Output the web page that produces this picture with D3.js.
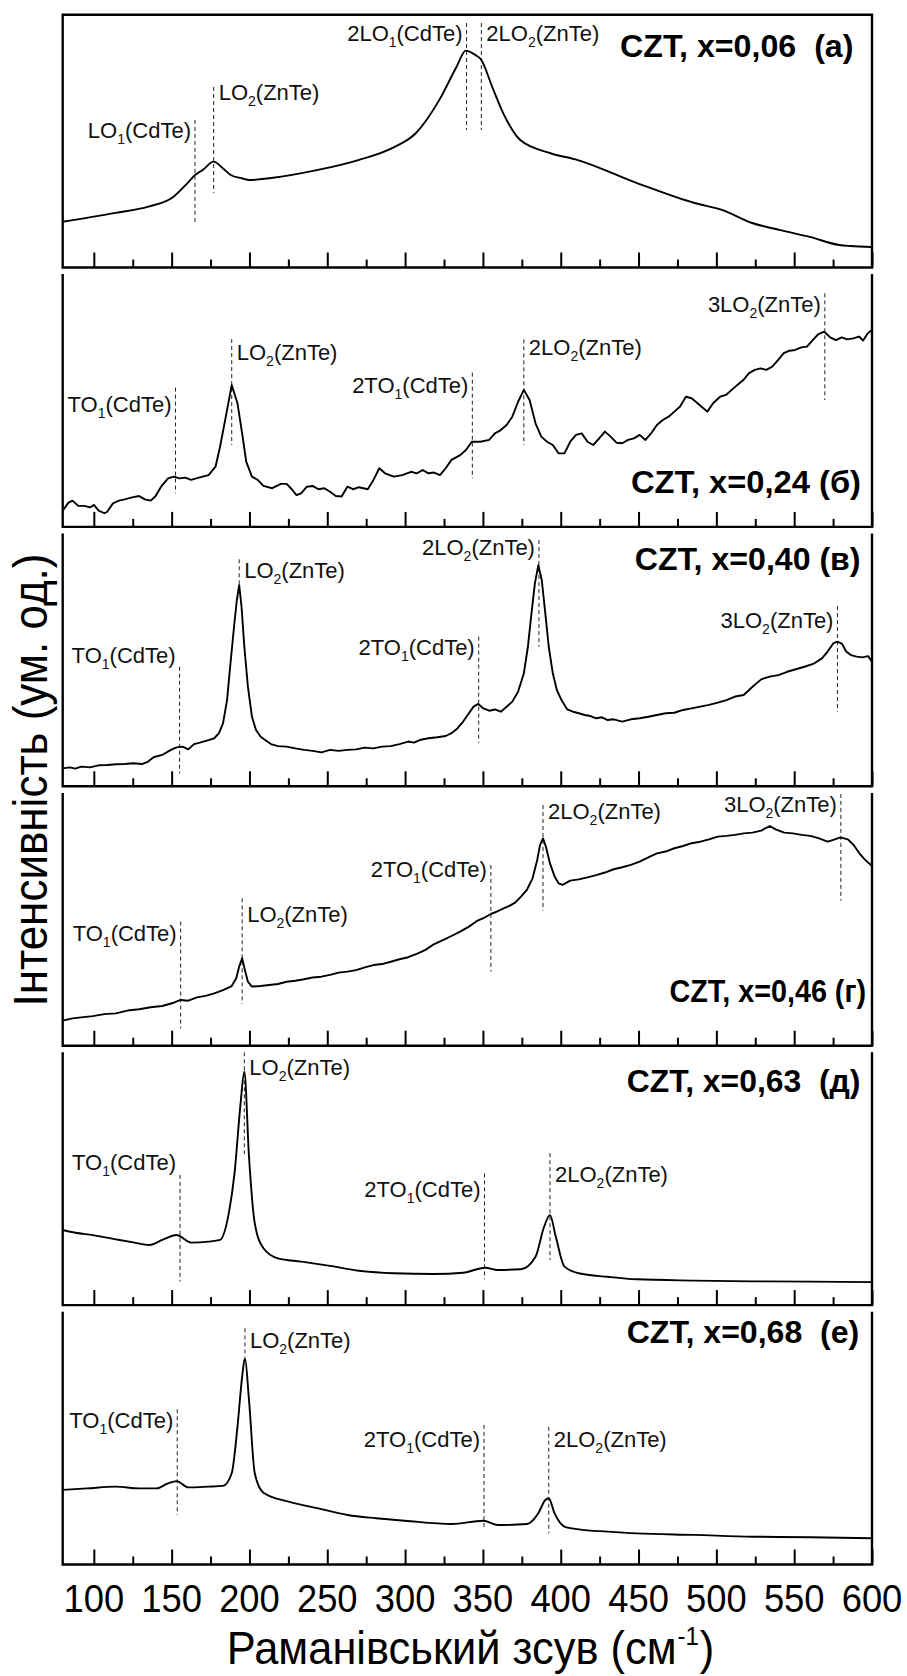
<!DOCTYPE html>
<html>
<head>
<meta charset="utf-8">
<script src="https://cdn.jsdelivr.net/npm/d3@7"></script>
<style>
  html, body { margin: 0; padding: 0; background: #fff; }
  svg { display: block; font-family: "Liberation Sans", Arial, sans-serif; }
  .lbl { white-space: pre; }
</style>
</head>
<body>
<svg id="chart" width="907" height="1676"></svg>
<script>
// ---- Raman shift axis ----
const shiftDomain = [80, 600];
const majorTicks = [100, 150, 200, 250, 300, 350, 400, 450, 500, 550, 600];
const minorTicks = [125, 175, 225, 275, 325, 375, 425, 475, 525, 575];
const tickLabels = ["100", "150", "200", "250", "300", "350", "400", "450", "500", "550", "600"];

// ---- sample captions ----
const sampleLabels = [
  "CZT, x=0,06  (а)",
  "CZT, x=0,24 (б)",
  "CZT, x=0,40 (в)",
  "CZT, x=0,46 (г)",
  "CZT, x=0,63  (д)",
  "CZT, x=0,68  (е)"
];

// ---- spectra: Raman shift (cm^-1) and intensity (arb. units, 0–100 per panel) ----
const shiftA = [80, 114, 135, 151, 160, 165, 170, 177, 183, 188, 195, 200, 214, 244, 270, 292, 307, 322, 333, 339, 345, 349, 356, 363, 374, 393, 411, 449, 486, 504, 523, 541, 560, 579, 586, 600];
const intensityA = [18.1, 21.6, 24.1, 27.9, 33.3, 36.6, 38.6, 41.9, 39.2, 36.6, 35.3, 34.6, 35.4, 38.6, 42.5, 47.3, 53.2, 66.3, 79.3, 85.8, 84.1, 82.1, 71.4, 61.1, 50.4, 45.3, 42.5, 33.4, 25.5, 22.7, 17.6, 14.8, 12.1, 8.9, 8.5, 8.1];

const shiftB = [80, 83.7, 86.3, 90, 93.8, 97.5, 100.1, 103.1, 106.8, 108.6, 112.3, 116.1, 119.8, 124.6, 129.1, 132.8, 136.5, 139.5, 143.2, 147.7, 151.4, 155.1, 158.8, 162.5, 168.1, 173.7, 178.2, 181.1, 184.8, 188.6, 192.3, 195.3, 197.9, 201.6, 205.3, 209, 214.6, 220.2, 223.9, 227.6, 230.2, 233.2, 236.9, 240.6, 244.3, 248.1, 251.8, 255.5, 259.2, 262.9, 266.6, 270.4, 276, 279.7, 283.4, 287.1, 292.7, 298.2, 303.8, 307.5, 311.3, 315, 318.7, 322.4, 326.1, 329.8, 335.4, 339.1, 342.9, 348.4, 354, 357.7, 361.5, 365.2, 368.9, 372.6, 376.3, 380, 383.8, 387.5, 391.2, 394.9, 398.6, 402.4, 406.1, 409.8, 413.5, 417.2, 420.9, 424.7, 428.4, 432.1, 435.8, 439.5, 443.3, 447, 450.7, 454.4, 458.1, 461.8, 465.6, 469.3, 473, 476.7, 480.4, 484.1, 487.9, 491.6, 494.2, 497.9, 502.4, 506.2, 509.8, 513.5, 517.3, 521, 524.7, 528.4, 532.1, 535.9, 539.6, 543.3, 547, 550.7, 554.5, 558.2, 561.9, 565.6, 569.3, 573.1, 576.8, 580.5, 584.2, 587.9, 591.7, 594.3, 597.3, 600];
const intensityB = [6.4, 9.6, 10.4, 8.3, 8.3, 7.7, 8.7, 6.4, 5.4, 6.0, 9.3, 10.4, 10.9, 11.7, 12.2, 10.9, 10.4, 12.0, 15.9, 19.2, 19.9, 19.2, 19.5, 18.6, 19.6, 20.5, 23.8, 31.7, 43.6, 56.1, 48.9, 37.0, 25.8, 19.9, 18.6, 16.2, 15.3, 17.0, 17.0, 14.6, 12.6, 13.3, 15.9, 16.2, 14.9, 15.3, 13.9, 12.2, 12.0, 15.9, 14.9, 15.7, 14.9, 18.6, 23.2, 21.2, 19.9, 20.5, 21.8, 21.2, 22.5, 21.2, 21.5, 20.5, 23.2, 26.5, 28.4, 30.4, 33.7, 33.7, 34.4, 37.0, 38.3, 40.3, 43.6, 49.5, 54.2, 50.2, 41.0, 35.7, 33.7, 32.4, 29.1, 29.1, 33.7, 36.4, 37.0, 33.7, 32.4, 35.0, 37.7, 35.7, 33.3, 33.1, 34.4, 35.0, 36.4, 34.4, 37.0, 40.3, 42.3, 43.6, 45.6, 47.6, 51.5, 50.9, 48.9, 46.9, 45.6, 48.9, 51.5, 52.2, 54.2, 56.1, 58.1, 60.8, 62.1, 62.7, 62.1, 63.4, 66.0, 68.7, 69.7, 70.0, 71.0, 71.3, 73.9, 76.3, 77.2, 75.0, 73.9, 75.0, 74.2, 74.6, 75.3, 73.7, 76.6, 77.9];

const shiftC = [80, 84.5, 88.2, 91.9, 97.5, 103.1, 108.6, 114.2, 119.8, 125.4, 130.9, 134.7, 138.4, 143.9, 149.5, 153.2, 157, 160.7, 164.4, 168.1, 173.7, 177.4, 180.4, 183, 185.6, 187.8, 190.1, 191.9, 193.4, 194.9, 196.7, 199, 201.6, 204.2, 207.2, 210.1, 213.8, 218.3, 223.9, 229.5, 235, 240.6, 246.2, 251.8, 257.3, 262.9, 268.5, 274.1, 279.7, 285.2, 290.8, 296.4, 302, 305.7, 309.4, 315, 320.6, 326.1, 329.8, 333.6, 337.3, 341, 344, 347, 350.3, 354, 357.7, 361.5, 365.2, 368.9, 372.6, 376.3, 378.9, 381.2, 383.4, 385.6, 387.8, 390.1, 392.3, 394.9, 397.5, 400.5, 404.2, 407.9, 411.6, 415.4, 419.1, 422.8, 426.5, 430.2, 434, 439.5, 445.1, 450.7, 456.3, 461.8, 467.4, 473, 478.6, 484.1, 489.7, 495.3, 500.9, 506.5, 512, 517.6, 523.2, 528.8, 534.3, 539.9, 545.5, 551.1, 556.6, 562.2, 567.8, 571.5, 575.2, 577.8, 580.8, 583.4, 586.4, 590.1, 593.8, 597.5, 600];
const intensityC = [7.1, 7.5, 7.0, 7.8, 7.5, 8.3, 8.4, 8.7, 8.8, 9.1, 8.8, 9.7, 11.5, 12.4, 14.4, 15.4, 15.7, 14.6, 16.7, 17.3, 18.3, 19.0, 21.0, 24.9, 34.1, 48.6, 63.2, 73.7, 79.6, 71.1, 55.2, 39.4, 27.5, 22.3, 19.6, 18.3, 16.7, 15.9, 15.7, 15.0, 14.4, 14.0, 13.4, 14.4, 14.0, 14.4, 14.6, 15.3, 15.0, 15.7, 15.9, 16.7, 17.7, 17.3, 18.3, 19.0, 19.4, 19.9, 21.0, 22.9, 25.6, 28.9, 31.5, 32.6, 30.8, 29.9, 30.4, 29.5, 31.5, 33.5, 37.4, 44.7, 55.2, 68.4, 80.3, 87.5, 81.6, 68.4, 55.2, 44.7, 38.1, 34.1, 30.4, 29.5, 28.9, 28.2, 27.8, 26.9, 27.3, 26.2, 26.5, 25.6, 26.5, 26.9, 27.5, 28.2, 28.9, 29.1, 30.2, 30.8, 31.5, 32.2, 33.1, 34.1, 35.5, 36.1, 39.4, 42.3, 43.4, 44.0, 45.3, 46.3, 47.3, 48.4, 50.6, 53.3, 56.6, 57.2, 56.3, 53.3, 51.9, 51.3, 51.0, 51.5, 49.3];

const shiftD = [80, 86.3, 91.9, 99.3, 106.8, 114.2, 121.6, 129.1, 136.5, 143.9, 151.4, 155.8, 160.7, 166.3, 171.8, 177.4, 183, 188.6, 191.5, 193.4, 195.3, 197.1, 199, 201.6, 207.2, 212.7, 218.3, 223.9, 229.5, 235, 240.6, 246.2, 251.8, 257.3, 262.9, 268.5, 274.1, 279.7, 285.2, 290.8, 296.4, 302, 307.5, 313.1, 318.7, 324.3, 329.8, 335.4, 341, 346.6, 351.4, 355.1, 358.9, 363.3, 367, 370.7, 374.5, 378.2, 381.9, 384.9, 386.7, 388.6, 390.5, 393.1, 396.1, 398.6, 401.2, 406.1, 411.6, 417.2, 422.8, 428.4, 434, 439.5, 445.1, 450.7, 456.3, 461.8, 467.4, 473, 478.6, 484.1, 489.7, 495.3, 500.9, 506.5, 512, 517.6, 523.2, 528.8, 534.3, 538.1, 543.6, 549.2, 554.8, 560.4, 566, 571.5, 575.2, 579.7, 584.5, 588.2, 591.9, 595.6, 600];
const intensityD = [9.9, 10.8, 11.2, 11.7, 12.5, 12.8, 13.9, 14.4, 15.2, 15.7, 17.0, 18.1, 17.8, 19.1, 19.7, 20.7, 22.0, 23.6, 26.7, 31.3, 34.6, 29.9, 25.3, 23.4, 23.6, 24.0, 24.4, 25.3, 25.7, 26.3, 27.0, 27.3, 28.0, 28.9, 29.3, 29.9, 31.0, 31.9, 32.3, 33.2, 34.2, 35.0, 36.3, 37.9, 40.2, 41.8, 43.4, 45.1, 47.1, 49.5, 50.8, 52.1, 53.0, 54.3, 55.3, 56.6, 59.0, 61.6, 66.2, 73.5, 79.4, 82.0, 78.7, 72.1, 66.9, 64.2, 63.6, 65.3, 65.8, 66.6, 67.5, 68.5, 69.8, 70.6, 71.5, 72.8, 74.5, 76.1, 76.8, 78.1, 79.0, 80.1, 80.7, 81.6, 82.7, 83.0, 83.4, 84.0, 84.3, 85.1, 86.9, 85.6, 84.3, 84.0, 83.4, 83.0, 82.0, 80.7, 81.4, 82.4, 81.6, 79.4, 76.1, 73.5, 71.1];

const shiftE = [80, 88.2, 99.3, 114.2, 125.4, 135.8, 144, 153.2, 162.5, 173.7, 181.1, 186.7, 190.4, 194.1, 196.7, 199.7, 203.4, 209, 218.3, 233.2, 251.8, 270.4, 292.7, 318.7, 337.3, 351.4, 359.6, 374.5, 383.8, 389.3, 393.1, 396.8, 402.4, 411.6, 430.2, 448.8, 486, 523.2, 560.4, 600];
const intensityE = [29.7, 28.6, 27.7, 26.0, 24.8, 23.8, 25.8, 27.7, 24.7, 25.1, 25.8, 36.3, 52.1, 78.5, 92.3, 58.7, 32.4, 22.5, 18.5, 17.2, 15.5, 13.6, 12.6, 12.3, 12.8, 14.8, 13.9, 14.2, 19.1, 31.0, 35.6, 27.1, 15.2, 12.6, 11.2, 10.2, 9.7, 9.4, 9.3, 9.1];

const shiftF = [80, 95.6, 114.2, 129, 140.2, 147.7, 153.2, 160.7, 173.7, 183, 188.6, 192.3, 195.3, 197.1, 199.7, 203.4, 209, 225.7, 244.3, 263, 281.5, 300, 329.8, 350.3, 359.6, 378.2, 385.6, 390.1, 392.3, 396, 402.4, 411.6, 430.2, 448.8, 486, 523.2, 560.4, 600];
const intensityF = [29.5, 30.1, 30.8, 30.1, 30.1, 32.1, 33.0, 30.5, 30.8, 31.1, 36.1, 54.5, 74.3, 81.6, 65.1, 36.1, 28.4, 24.8, 22.2, 19.6, 18.3, 17.3, 16.0, 17.3, 15.6, 16.0, 20.3, 25.5, 26.2, 20.3, 15.0, 13.9, 13.0, 12.3, 11.7, 11.0, 10.8, 10.4];

// ---- phonon mode assignments: [mode, subscript, compound, shift cm^-1] ----
const peaksA = [["LO", "1", "(CdTe)", 165], ["LO", "2", "(ZnTe)", 177], ["2LO", "1", "(CdTe)", 339.5], ["2LO", "2", "(ZnTe)", 349]];
const peaksB = [["TO", "1", "(CdTe)", 152.5], ["LO", "2", "(ZnTe)", 188.6], ["2TO", "1", "(CdTe)", 343.2], ["2LO", "2", "(ZnTe)", 376.3], ["3LO", "2", "(ZnTe)", 569.7]];
const peaksC = [["TO", "1", "(CdTe)", 155.1], ["LO", "2", "(ZnTe)", 193.4], ["2TO", "1", "(CdTe)", 347.3], ["2LO", "2", "(ZnTe)", 386], ["3LO", "2", "(ZnTe)", 577.8]];
const peaksD = [["TO", "1", "(CdTe)", 155.8], ["LO", "2", "(ZnTe)", 195.3], ["2TO", "1", "(CdTe)", 355.1], ["2LO", "2", "(ZnTe)", 388.6], ["3LO", "2", "(ZnTe)", 580]];
const peaksE = [["TO", "1", "(CdTe)", 155.4], ["LO", "2", "(ZnTe)", 196.7], ["2TO", "1", "(CdTe)", 351], ["2LO", "2", "(ZnTe)", 393.1]];
const peaksF = [["TO", "1", "(CdTe)", 153.6], ["LO", "2", "(ZnTe)", 197.1], ["2TO", "1", "(CdTe)", 350.7], ["2LO", "2", "(ZnTe)", 392.3]];

// ---- placement of the dashed markers and their captions (panel intensity units) ----
// [marker top, marker bottom, caption baseline, caption side]
const markerLayout = [
  [[58.4, 16.8, 51.4, "end"], [71.4, 29.5, 66.3, "start"], [96.7, 54.4, 89.4, "end"], [96.7, 54.4, 89.4, "start"]],
  [[55.1, 13.3, 45.6, "end"], [74.3, 32.4, 66.0, "start"], [61.0, 19.2, 52.9, "end"], [74.2, 32.4, 68.0, "start"], [92.4, 50.2, 85.1, "end"]],
  [[47.3, 5.1, 48.9, "end"], [89.8, 79.6, 82.3, "start"], [59.2, 17.2, 51.9, "end"], [97.4, 55.2, 91.5, "end"], [71.3, 29.5, 62.5, "end"]],
  [[49.1, 6.9, 41.5, "end"], [58.3, 16.5, 49.1, "start"], [71.5, 29.3, 66.9, "end"], [95.2, 53.4, 89.6, "start"], [99.6, 57.4, 92.6, "end"]],
  [[51.5, 9.3, 53.4, "end"], [100, 59.4, 91.0, "start"], [52.1, 10.2, 42.9, "end"], [60.1, 17.8, 48.8, "start"]],
  [[61.4, 19.6, 53.8, "end"], [93.4, 82.1, 85.5, "start"], [55.2, 13.6, 46.6, "end"], [54.5, 12.3, 46.6, "start"]]
];
// sample caption: [right edge x, baseline offset from panel top, text length]
const captionPlace = [[853.5, 42.5, 233.5], [861, 219, 230], [860.5, 36.5, 225.7], [866, 209, 196.5], [860.5, 40, 233.8], [859.3, 31.5, 232.6]];

const panels = [
  { shift: shiftA, intensity: intensityA, peaks: peaksA, curve: d3.curveMonotoneX },
  { shift: shiftB, intensity: intensityB, peaks: peaksB, curve: d3.curveLinear },
  { shift: shiftC, intensity: intensityC, peaks: peaksC, curve: d3.curveLinear },
  { shift: shiftD, intensity: intensityD, peaks: peaksD, curve: d3.curveLinear },
  { shift: shiftE, intensity: intensityE, peaks: peaksE, curve: d3.curveMonotoneX },
  { shift: shiftF, intensity: intensityF, peaks: peaksF, curve: d3.curveMonotoneX }
];

// ---- geometry ----
const plotLeft = 62.7, plotRight = 872;
const panelTop0 = 14.7, panelPitch = 259.4, panelHeight = 252.8;

const svg = d3.select("#chart");
const x = d3.scaleLinear().domain(shiftDomain).range([plotLeft, plotRight]);
const y = d3.scaleLinear().domain([0, 100]).range([panelHeight, 0]);

panels.forEach((p, i) => {
  const g = svg.append("g").attr("transform", `translate(0,${panelTop0 + i * panelPitch})`);

  // dashed mode markers with captions
  p.peaks.forEach((pk, j) => {
    const [mode, sub, host, pos] = pk;
    const [top, bottom, base, side] = markerLayout[i][j];
    g.append("line")
      .attr("x1", x(pos)).attr("x2", x(pos))
      .attr("y1", y(top)).attr("y2", y(bottom))
      .attr("stroke", "#222").attr("stroke-width", 1)
      .attr("stroke-dasharray", "4,3");
    const t = g.append("text")
      .attr("x", x(pos) + (side === "end" ? -4 : 5))
      .attr("y", y(base))
      .attr("text-anchor", side)
      .attr("font-size", 22)
      .attr("fill", "#111");
    t.append("tspan").text(mode);
    t.append("tspan").attr("font-size", 14).attr("dy", 6).text(sub);
    t.append("tspan").attr("dy", -6).text(host);
  });

  // spectrum
  const line = d3.line().x(d => x(d[0])).y(d => y(d[1])).curve(p.curve);
  g.append("path")
    .datum(d3.zip(p.shift, p.intensity))
    .attr("d", line)
    .attr("fill", "none")
    .attr("stroke", "#000")
    .attr("stroke-width", 1.9)
    .attr("stroke-linejoin", "round");

  // inward ticks on the bottom edge
  const major = d3.axisBottom(x).tickValues(majorTicks).tickSize(-15).tickFormat("");
  const minor = d3.axisBottom(x).tickValues(minorTicks).tickSize(-8).tickFormat("");
  [major, minor].forEach(ax => {
    g.append("g")
      .attr("transform", `translate(0,${panelHeight})`)
      .call(ax)
      .call(s => s.select(".domain").remove())
      .selectAll("line").attr("stroke", "#000").attr("stroke-width", 2);
  });

  // frame: closed on the first panel, open at the top on the others
  const fr = i === 0
    ? `M${plotLeft},0H${plotRight}V${panelHeight}H${plotLeft}Z`
    : `M${plotLeft},0V${panelHeight}H${plotRight}V0`;
  g.append("path").attr("d", fr)
    .attr("fill", "none").attr("stroke", "#000").attr("stroke-width", 2.4)
    .attr("stroke-linejoin", "miter");

  // sample caption
  const [cx, cy, clen] = captionPlace[i];
  g.append("text").attr("class", "lbl")
    .attr("x", cx).attr("y", cy)
    .attr("text-anchor", "end")
    .attr("font-size", 31).attr("font-weight", "bold")
    .attr("textLength", clen).attr("lengthAdjust", "spacingAndGlyphs")
    .text(sampleLabels[i]);

  // tick labels under the last panel
  if (i === panels.length - 1) {
    g.selectAll("text.tick-label")
      .data(majorTicks)
      .join("text")
      .attr("class", "tick-label")
      .attr("x", d => x(d))
      .attr("y", panelHeight + 47.2)
      .attr("text-anchor", "middle")
      .attr("font-size", 39.5)
      .attr("textLength", 60.6).attr("lengthAdjust", "spacingAndGlyphs")
      .text((d, k) => tickLabels[k]);
  }
});

// x-axis title, narrowed horizontally to its printed width
const xt = svg.append("text")
  .attr("text-anchor", "middle")
  .attr("font-size", 47);
xt.append("tspan").text("Раманівський зсув (см");
xt.append("tspan").attr("font-size", 26).attr("dx", 1).attr("dy", -19).text("-1");
xt.append("tspan").attr("dx", 1).attr("dy", 19).text(")");
const xtWidth = xt.node().getComputedTextLength();
xt.attr("transform", `translate(470.5,1663.5) scale(${486 / xtWidth},1)`);

// y-axis title
svg.append("text")
  .attr("transform", "translate(46.5,780) rotate(-90)")
  .attr("text-anchor", "middle")
  .attr("font-size", 49)
  .attr("textLength", 453).attr("lengthAdjust", "spacingAndGlyphs")
  .text("Інтенсивність (ум. од.)");
</script>
</body>
</html>
